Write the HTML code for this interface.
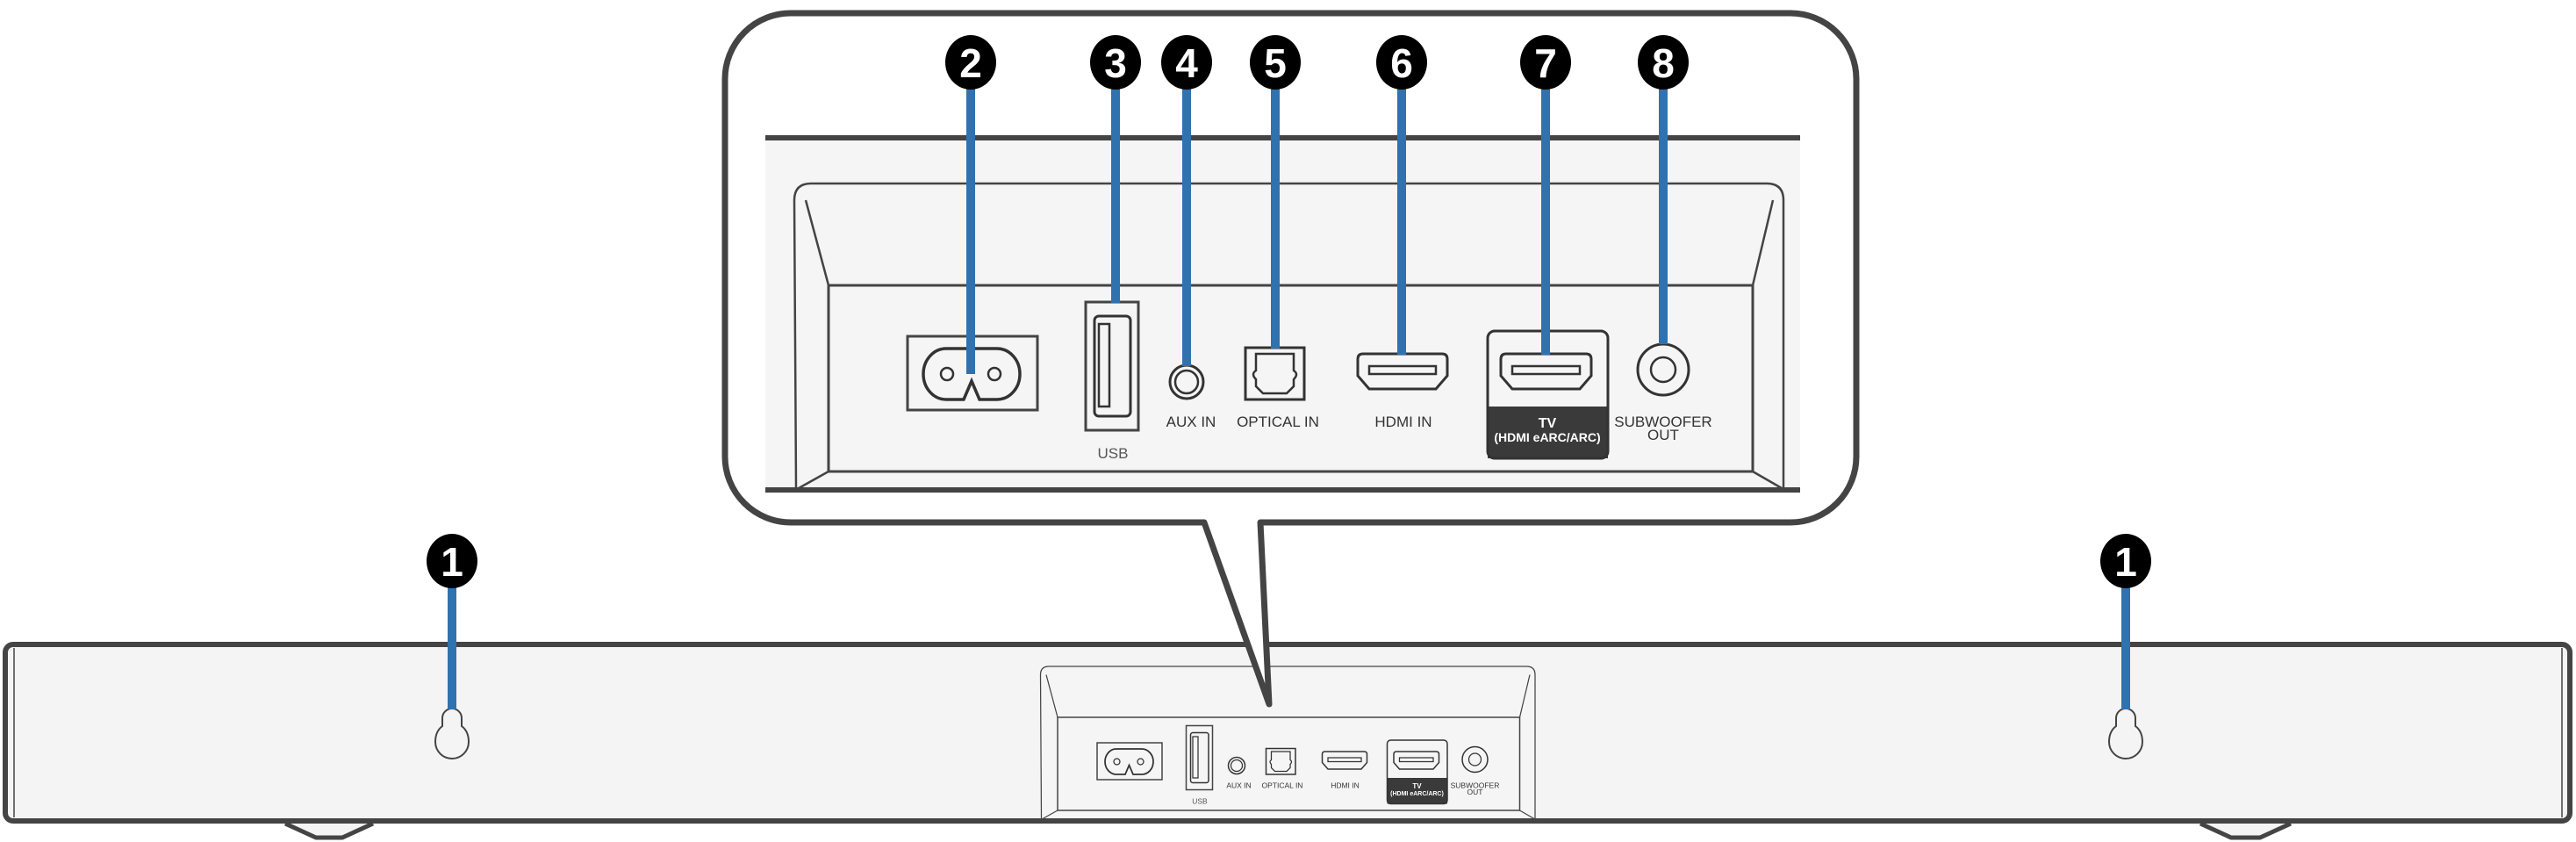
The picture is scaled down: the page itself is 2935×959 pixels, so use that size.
<!DOCTYPE html>
<html><head><meta charset="utf-8"><style>
html,body{margin:0;padding:0;background:#fff;}
svg{display:block;}
text{font-family:"Liberation Sans Narrow","Liberation Sans",sans-serif;}
</style></head><body>
<svg width="2935" height="959" viewBox="0 0 2935 959" xmlns="http://www.w3.org/2000/svg">
<defs>
<g id="panel">
  <path d="M907,556 L905,228 Q905,209 924,209 H2013 Q2032,209 2032,228 L2032,556" fill="#f5f5f5" stroke="#444" stroke-width="2.5"/>
  <path d="M918,228 L944,325 M2020,228 L1997,325 M944,537 L910,556 M1997,537 L2030,556" stroke="#444" stroke-width="2.5" fill="none"/>
  <rect x="944" y="325" width="1053" height="212" fill="#f5f5f5" stroke="#444" stroke-width="3"/>
  <rect x="1034" y="383" width="148" height="84" fill="none" stroke="#444" stroke-width="3"/>
  <path d="M1078,397 H1136 A26,29 0 0 1 1136,455 H1116 L1107,434 L1098,455 H1078 A26,29 0 0 1 1078,397 Z" fill="none" stroke="#333" stroke-width="3.5"/>
  <circle cx="1079" cy="426" r="7" fill="none" stroke="#333" stroke-width="2.5"/>
  <circle cx="1133" cy="426" r="7" fill="none" stroke="#333" stroke-width="2.5"/>
  <rect x="1237" y="344" width="60" height="146" fill="none" stroke="#444" stroke-width="3"/>
  <rect x="1247" y="360" width="41" height="114" rx="5" fill="none" stroke="#333" stroke-width="3"/>
  <rect x="1252" y="369" width="12" height="94" fill="none" stroke="#333" stroke-width="2.5"/>
  <text x="1268" y="522" font-size="17" fill="#555" text-anchor="middle">USB</text>
  <circle cx="1352" cy="435" r="19" fill="none" stroke="#333" stroke-width="3"/>
  <circle cx="1352" cy="435" r="13" fill="none" stroke="#333" stroke-width="2.5"/>
  <text x="1357" y="486" font-size="17" fill="#333" text-anchor="middle">AUX IN</text>
  <rect x="1419" y="396" width="67" height="59" fill="none" stroke="#333" stroke-width="3"/>
  <path d="M1431,403 H1474 V422 Q1480,426 1474,432 V440 L1466,448 H1439 L1431,440 V432 Q1425,426 1431,422 Z" fill="none" stroke="#333" stroke-width="2.5"/>
  <text x="1456" y="486" font-size="17" fill="#333" text-anchor="middle">OPTICAL IN</text>
  <path d="M1553,403 H1643 Q1649,403 1649,409 V428 L1636,443 H1560 L1547,428 V409 Q1547,403 1553,403 Z" fill="none" stroke="#333" stroke-width="3"/>
  <rect x="1560" y="417" width="76" height="9" fill="none" stroke="#333" stroke-width="2.5"/>
  <text x="1599" y="486" font-size="17" fill="#333" text-anchor="middle">HDMI IN</text>
  <path d="M1695,463 V522 H1832 V463 Z" fill="#3a3a3a"/>
  <rect x="1695" y="377" width="137" height="145" rx="8" fill="none" stroke="#333" stroke-width="3"/>
  <path d="M1716,403 H1807 Q1813,403 1813,409 V428 L1800,443 H1723 L1710,428 V409 Q1710,403 1716,403 Z" fill="none" stroke="#333" stroke-width="3"/>
  <rect x="1723" y="417" width="77" height="9" fill="none" stroke="#333" stroke-width="2.5"/>
  <text x="1763" y="487" font-size="16" font-weight="bold" fill="#fff" text-anchor="middle">TV</text>
  <text x="1763" y="503" font-size="14" font-weight="bold" fill="#fff" text-anchor="middle">(HDMI eARC/ARC)</text>
  <circle cx="1895" cy="421" r="29" fill="none" stroke="#333" stroke-width="3"/>
  <circle cx="1895" cy="421" r="14" fill="none" stroke="#333" stroke-width="2.5"/>
  <text x="1895" y="486" font-size="17" fill="#333" text-anchor="middle">SUBWOOFER</text>
  <text x="1895" y="501" font-size="17" fill="#333" text-anchor="middle">OUT</text>
</g>
<path id="keyhole" d="M-11,-16 V-25 A11,11 0 0 1 11,-25 V-16 Q19,-10 19,2 A19,19 0 0 1 -19,2 Q-19,-10 -11,-16 Z" fill="none" stroke="#444" stroke-width="2"/>
</defs>

<path d="M325,938 L360,954 H390 L425,938" fill="#f4f4f4" stroke="#444" stroke-width="5" stroke-linejoin="round"/>
<path d="M2507,938 L2542,954 H2575 L2610,938" fill="#f4f4f4" stroke="#444" stroke-width="5" stroke-linejoin="round"/>
<rect x="6" y="734" width="2922" height="201" rx="9" fill="#f4f4f4" stroke="#444" stroke-width="6"/>
<line x1="16" y1="738" x2="16" y2="931" stroke="#444" stroke-width="1.5"/>
<line x1="2919" y1="738" x2="2919" y2="931" stroke="#444" stroke-width="1.5"/>
<g transform="translate(733,654.5) scale(0.5)"><use href="#panel"/></g>
<line x1="1186" y1="935" x2="1750" y2="935" stroke="#444" stroke-width="6"/>

<use href="#keyhole" transform="translate(515,843)"/>
<use href="#keyhole" transform="translate(2422,843)"/>
<line x1="515" y1="665" x2="515" y2="808" stroke="#2f72b0" stroke-width="10"/>
<line x1="2422" y1="665" x2="2422" y2="808" stroke="#2f72b0" stroke-width="10"/>
<ellipse cx="515" cy="639" rx="29" ry="31" fill="#000"/>
<text x="515" y="656" font-size="46" font-weight="bold" fill="#fff" text-anchor="middle">1</text>
<ellipse cx="2422" cy="639" rx="29" ry="31" fill="#000"/>
<text x="2422" y="656" font-size="46" font-weight="bold" fill="#fff" text-anchor="middle">1</text>

<path d="M1436,595 H2040 A75,75 0 0 0 2115,520 V90 A75,75 0 0 0 2040,15 H901 A75,75 0 0 0 826,90 V520 A75,75 0 0 0 901,595 H1372 L1446,802 Z" fill="#fff" stroke="#444" stroke-width="7" stroke-linejoin="round"/>
<rect x="872" y="157" width="1179" height="401" fill="#f5f5f5"/>
<use href="#panel"/>
<line x1="872" y1="157" x2="2051" y2="157" stroke="#444" stroke-width="6"/>
<line x1="872" y1="558" x2="2051" y2="558" stroke="#444" stroke-width="6"/>

<g stroke="#2f72b0" stroke-width="10">
  <line x1="1106" y1="95" x2="1106" y2="426"/>
  <line x1="1271" y1="95" x2="1271" y2="345"/>
  <line x1="1352" y1="95" x2="1352" y2="417"/>
  <line x1="1453" y1="95" x2="1453" y2="397"/>
  <line x1="1597" y1="95" x2="1597" y2="404"/>
  <line x1="1761" y1="95" x2="1761" y2="404"/>
  <line x1="1895" y1="95" x2="1895" y2="392"/>
</g>
<g fill="#000">
  <ellipse cx="1106" cy="71" rx="29" ry="31"/>
  <ellipse cx="1271" cy="71" rx="29" ry="31"/>
  <ellipse cx="1352" cy="71" rx="29" ry="31"/>
  <ellipse cx="1453" cy="71" rx="29" ry="31"/>
  <ellipse cx="1597" cy="71" rx="29" ry="31"/>
  <ellipse cx="1761" cy="71" rx="29" ry="31"/>
  <ellipse cx="1895" cy="71" rx="29" ry="31"/>
</g>
<g fill="#fff" font-size="46" font-weight="bold" text-anchor="middle">
  <text x="1106" y="88">2</text>
  <text x="1271" y="88">3</text>
  <text x="1352" y="88">4</text>
  <text x="1453" y="88">5</text>
  <text x="1597" y="88">6</text>
  <text x="1761" y="88">7</text>
  <text x="1895" y="88">8</text>
</g>
</svg>
</body></html>
